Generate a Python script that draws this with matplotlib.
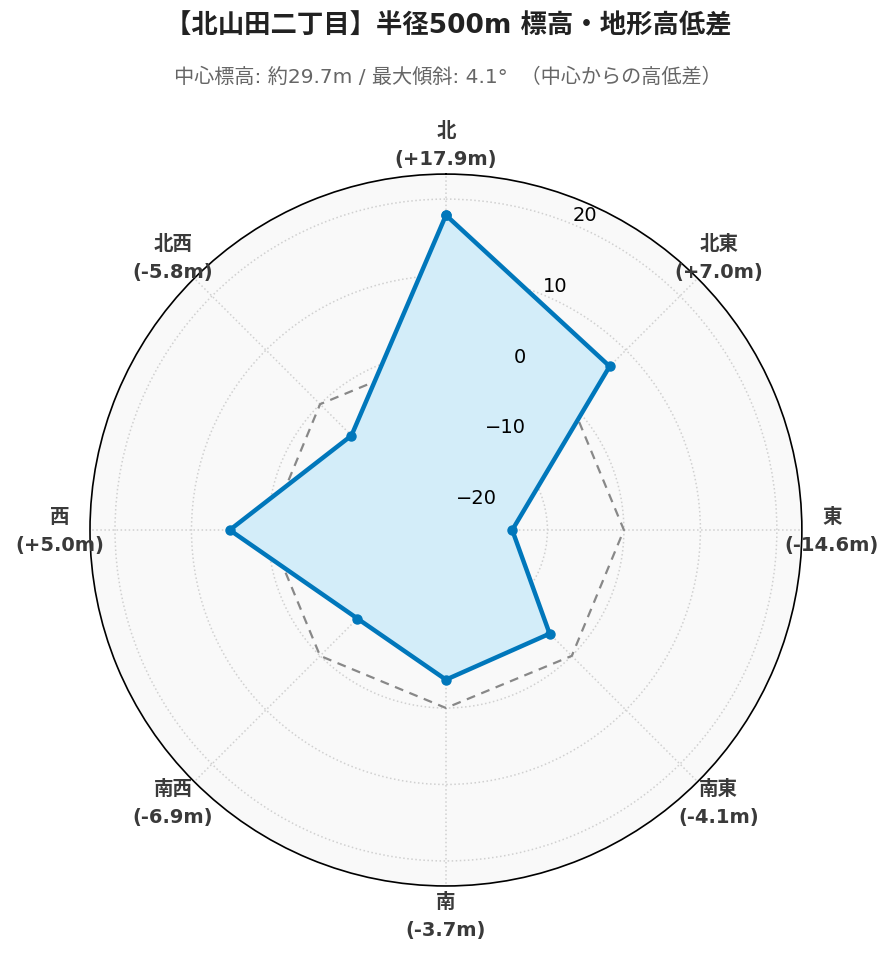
import numpy as np
import matplotlib
matplotlib.use("Agg")
import matplotlib.pyplot as plt

# ラテン文字はDejaVu、漢字・かなはNoto CJKへフォールバック
plt.rcParams['font.family'] = ['DejaVu Sans', 'Noto Sans CJK JP']

# 方位と中心からの高低差 (m)
directions = ['北', '北東', '東', '南東', '南', '南西', '西', '北西']
diffs = [17.9, 7.0, -14.6, -4.1, -3.7, -6.9, 5.0, -5.8]
rticks = [-20, -10, 0, 10, 20]

title = '【北山田二丁目】半径500m 標高・地形高低差'
subtitle = '中心標高: 約29.7m / 最大傾斜: 4.1°  （中心からの高低差）'

rmax = max(abs(v) for v in diffs) * 1.3

theta = np.deg2rad(np.arange(len(directions)) * 45)
th_closed = np.append(theta, theta[0])
v_closed = np.append(diffs, diffs[0])

fig = plt.figure(figsize=(8.96, 9.62), dpi=100)
ax = fig.add_axes([0.1004, 0.078, 0.7946, 0.740], projection='polar')
ax.set_theta_zero_location('N')
ax.set_theta_direction(-1)
ax.set_ylim(-rmax, rmax)
ax.set_facecolor('#f9f9f9')

# 基準線 (高低差0)
ax.plot(th_closed, np.zeros(len(th_closed)), ls='--', color='#888888', lw=1.6, dashes=(4, 3))

ax.fill(th_closed, v_closed, color='#d3edf9', zorder=2)
ax.plot(th_closed, v_closed, color='#0077bb', lw=3.2, marker='o', ms=6.5, zorder=3)

ax.set_xticks(theta)
ax.set_xticklabels([])
ax.set_yticks(rticks)
ax.set_yticklabels([])
ax.grid(True, color='#d0d0d0', ls=':', lw=1.1)
ax.spines['polar'].set_color('black')
ax.spines['polar'].set_linewidth(1.2)

for t, d, v in zip(theta, directions, diffs):
    ax.text(t, rmax * 1.168, f'{d}\n({v:+.1f}m)', ha='center', va='center',
            fontsize=14, fontweight='bold', color='#3a3a3a', linespacing=1.6,
            clip_on=False)

for r in rticks:
    ax.text(np.deg2rad(22.5), r, f'{r}'.replace('-', '\u2212'), ha='left', va='bottom',
            fontsize=14, color='black', zorder=4)

fig.text(0.5, 0.972, title, ha='center', va='center', fontsize=19, fontweight='bold', color='#222222')
fig.text(0.5, 0.92, subtitle, ha='center', va='center', fontsize=14.5, color='#666666')

fig.savefig('out.png', dpi=100)
